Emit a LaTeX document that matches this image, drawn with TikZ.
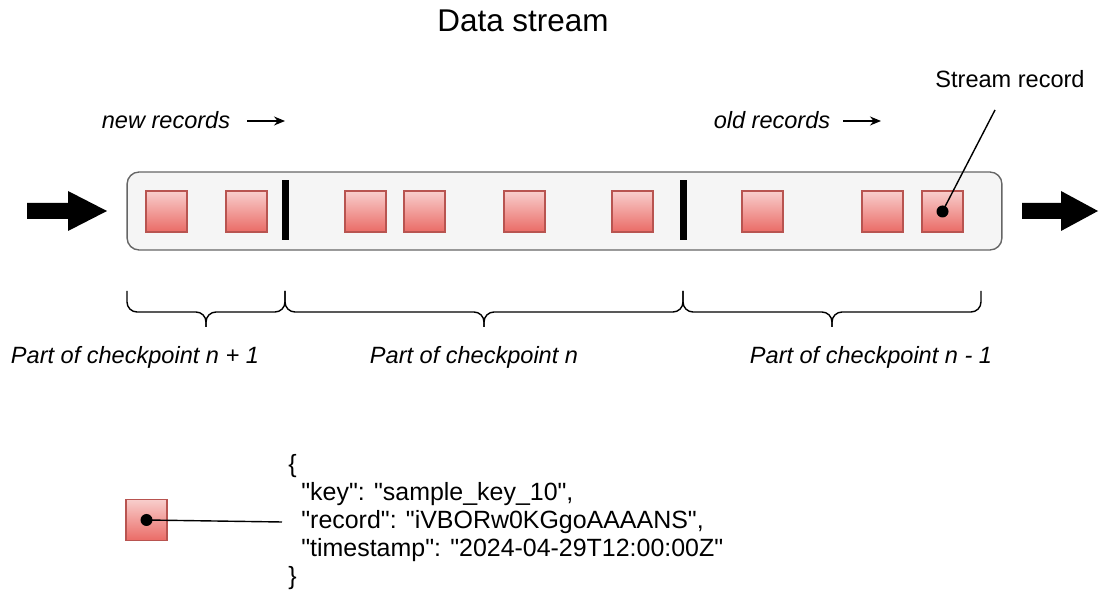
\documentclass[tikz,border=0pt]{standalone}
\usepackage{fontspec}
\setmainfont{Liberation Sans}
\newfontfamily\jsonfont{Liberation Sans}
\usetikzlibrary{arrows.meta,positioning}
\definecolor{recordtop}{HTML}{F8CECC}
\definecolor{recordbottom}{HTML}{EA6B66}
\definecolor{recordline}{HTML}{B85450}
\definecolor{streamfill}{HTML}{F5F5F5}
\definecolor{streamline}{HTML}{666666}

\begin{document}
\begin{tikzpicture}[x=0.02cm,y=-0.02cm,every node/.style={font=\fontsize{13.4}{15.6}\selectfont},
    record/.style={draw=recordline,line width=0.6pt,top color=recordtop,bottom color=recordbottom,minimum size=0.82cm,inner sep=0pt},
    marker/.style={fill=black,minimum width=0.14cm,minimum height=1.2cm,inner sep=0pt},
    dot/.style={circle,fill=black,minimum size=0.24cm,inner sep=0pt},
    part/.style={anchor=base,font=\fontsize{13.4}{15.6}\selectfont\itshape}]
    \useasboundingbox (0,0) rectangle (1099,597);
    \node[anchor=base,font=\fontsize{17.9}{20}\selectfont] (title) at (523,32) {Data stream};
    \node[draw=streamline,fill=streamfill,line width=0.8pt,rounded corners=0.24cm,minimum width=17.5cm,minimum height=1.56cm] (stream) at (564.5,211) {};
    \foreach \x [count=\i] in {166.5,246.5,365.5,424.5,524.5,632.5,762.5,882.5,942.5}
        \node[record] (r\i) at (\x,211.5) {};
    \node[marker] (cut1) at (285,210) {};
    \node[marker] (cut2) at (683,210) {};
    % flow in and out
    \fill (27,203) -- (68,203) -- (68,191) -- (107,211) -- (68,231) -- (68,219) -- (27,219) -- cycle;
    \fill (1022,203) -- (1061,203) -- (1061,191) -- (1098,211) -- (1061,231) -- (1061,219) -- (1022,219) -- cycle;
    \node[part] (newlbl) at (166,129) {new records};
    \node[part] (oldlbl) at (772,129) {old records};
    \coordinate (new1) at (247,121);
    \coordinate (new2) at (285,121);
    \coordinate (old1) at (843,121);
    \coordinate (old2) at (881,121);
    \draw[-{Stealth[length=0.22cm,width=0.18cm]},line width=0.8pt] (new1) -- (new2);
    \draw[-{Stealth[length=0.22cm,width=0.18cm]},line width=0.8pt] (old1) -- (old2);
    % stream record callout
    \node[anchor=base] (srlbl) at (1010,88) {Stream record};
    \coordinate (srend) at (995,110);
    \node[dot] (d1) at (r9.center) {};
    \draw[line width=0.8pt] (d1.center) -- (srend);
    % checkpoint braces
    \foreach \a/\m/\b in {127/206/285,285/484/683,683/832/981} {
        \draw[rounded corners=0.2cm,line width=0.8pt] (\a,291) -- (\a,312) -- (\m,312) -- (\m,327);
        \draw[rounded corners=0.2cm,line width=0.8pt] (\b,291) -- (\b,312) -- (\m,312) -- (\m,327);
    }
    \node[part] (cp1) at (135,364) {Part of checkpoint n + 1};
    \node[part] (cp2) at (474,364) {Part of checkpoint n};
    \node[part] (cp3) at (871,364) {Part of checkpoint n - 1};
    % sample record
    \node[record] (sample) at (146.5,520) {};
    \node[dot] (d2) at (sample.center) {};
    \node[anchor=west,align=left,inner xsep=0.12cm,inner ysep=0pt,font=\fontsize{14.2}{15.9}\jsonfont] (json) at (282,522)
        {\{\\\hspace*{0.26cm}"key": "sample\_key\_10",\\\hspace*{0.26cm}"record": "iVBORw0KGgoAAAANS",\\\hspace*{0.26cm}"timestamp": "2024-04-29T12:00:00Z"\\\}};
    \draw[line width=0.8pt] (d2.center) -- (json.west);
\end{tikzpicture}
\end{document}
